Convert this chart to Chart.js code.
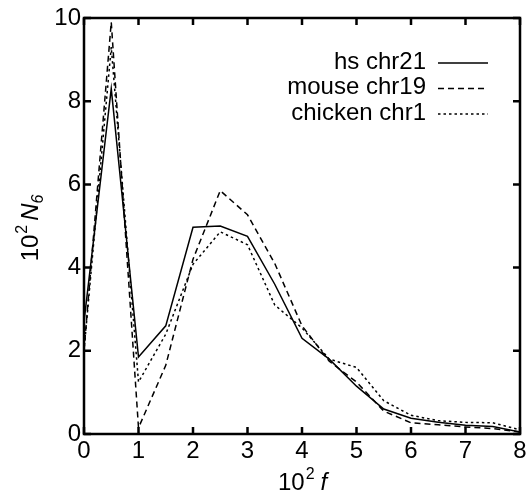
<html lang="en">
  <head>
    <title>N6 vs f</title>
    <script type="text/javascript" src="https://cdn.jsdelivr.net/npm/chart.js"></script>
    <style>
      body { margin: 0; background: #fff; }
      #wrap { width: 532px; height: 498px; }
    </style>
  </head>
  <body>
    <div id="wrap">
      <canvas id="myChart" width="532" height="498"></canvas>
    </div>
    <script>
      // 10^2 f on x, 10^2 N6 on y
      const fVals = [0, 0.5, 1, 1.5, 2, 2.5, 3, 3.5, 4, 4.5, 5, 5.5, 6, 6.5, 7, 7.5, 8];
      const hsChr21 = [2.7, 8.3, 1.85, 2.6, 4.97, 5.0, 4.75, 3.6, 2.3, 1.8, 1.15, 0.6, 0.38, 0.28, 0.21, 0.18, 0.05];
      const mouseChr19 = [2.0, 9.9, 0.15, 1.65, 4.2, 5.85, 5.27, 4.1, 2.6, 1.75, 1.25, 0.55, 0.27, 0.22, 0.17, 0.13, 0.05];
      const chickenChr1 = [2.0, 9.3, 1.25, 2.4, 4.08, 4.86, 4.55, 3.1, 2.55, 1.8, 1.6, 0.8, 0.45, 0.32, 0.28, 0.27, 0.1];

      const seriesNames = ['hs chr21', 'mouse chr19', 'chicken chr1'];
      const seriesDash = [[], [6, 4], [2.5, 3]];
      const xTicks = [0, 1, 2, 3, 4, 5, 6, 7, 8];
      const yTicks = [0, 2, 4, 6, 8, 10];

      const FONT = 'Liberation Sans, Arial, sans-serif';

      const toPts = (ys) => fVals.map((f, i) => ({x: f, y: ys[i]}));
      const allSeries = [hsChr21, mouseChr19, chickenChr1];

      // frame, inward ticks, legend and axis titles
      const decorations = {
        id: 'decorations',
        afterDraw(chart) {
          const ctx = chart.ctx;
          const a = chart.chartArea;
          const xs = chart.scales.x, ys = chart.scales.y;
          ctx.save();
          ctx.strokeStyle = '#000';
          ctx.lineWidth = 2.5;
          ctx.setLineDash([]);
          ctx.strokeRect(a.left, a.top, a.right - a.left, a.bottom - a.top);

          ctx.lineWidth = 2.5;
          const tl = 7;
          ctx.beginPath();
          xTicks.forEach(v => {
            const px = xs.getPixelForValue(v);
            ctx.moveTo(px, a.bottom); ctx.lineTo(px, a.bottom - tl);
            ctx.moveTo(px, a.top); ctx.lineTo(px, a.top + tl);
          });
          yTicks.forEach(v => {
            const py = ys.getPixelForValue(v);
            ctx.moveTo(a.left, py); ctx.lineTo(a.left + tl, py);
            ctx.moveTo(a.right, py); ctx.lineTo(a.right - tl, py);
          });
          ctx.stroke();

          // legend
          ctx.fillStyle = '#000';
          ctx.font = '24px ' + FONT;
          ctx.textAlign = 'right';
          ctx.textBaseline = 'middle';
          ctx.lineWidth = 1.5;
          seriesNames.forEach((name, i) => {
            const y = 62 + i * 25.5;
            ctx.fillText(name, 426, y);
            ctx.setLineDash(seriesDash[i]);
            ctx.beginPath();
            ctx.moveTo(438, y + 1);
            ctx.lineTo(488, y + 1);
            ctx.stroke();
          });
          ctx.setLineDash([]);

          // x title: 10^2 f
          ctx.textAlign = 'left';
          ctx.textBaseline = 'alphabetic';
          let x = 278, y = 490;
          ctx.font = '24px ' + FONT;
          ctx.fillText('10', x, y);
          x += ctx.measureText('10').width;
          ctx.font = '16px ' + FONT;
          ctx.fillText('2', x + 1, y - 11);
          x += ctx.measureText('2').width + 7;
          ctx.font = 'italic 24px ' + FONT;
          ctx.fillText('f', x, y);

          // y title: 10^2 N6 (rotated)
          ctx.translate(38, 226);
          ctx.rotate(-Math.PI / 2);
          ctx.font = '24px ' + FONT;
          const w = ctx.measureText('10').width + 10 + 34;
          x = -w / 2; y = 0;
          ctx.fillText('10', x, y);
          x += ctx.measureText('10').width;
          ctx.font = '16px ' + FONT;
          ctx.fillText('2', x + 1, y - 11);
          x += ctx.measureText('2').width + 5;
          ctx.font = 'italic 24px ' + FONT;
          ctx.fillText('N', x, y);
          x += ctx.measureText('N').width;
          ctx.font = 'italic 16px ' + FONT;
          ctx.fillText('6', x, y + 5);
          ctx.restore();
        }
      };

      const ctx = document.getElementById('myChart').getContext('2d');

      let dts = {
        datasets: allSeries.map((s, i) => ({
          label: seriesNames[i],
          data: toPts(s),
          borderColor: '#000',
          borderWidth: 1.5,
          borderDash: seriesDash[i],
          pointRadius: 0,
          tension: 0,
          fill: false,
        }))
      };

      let configOptions = {
        responsive: false,
        animation: false,
        layout: { padding: { top: 18, right: 12, left: 0, bottom: 0 } },
        plugins: {
          legend: { display: false },
          tooltip: { enabled: false },
        },
        scales: {
          x: {
            type: 'linear',
            min: 0, max: 8,
            afterFit: (s) => { s.height = 64; },
            afterBuildTicks: (s) => { s.ticks = xTicks.map(v => ({value: v})); },
            grid: { display: false, drawTicks: false },
            border: { display: false },
            ticks: { color: '#000', font: { family: FONT, size: 24 }, padding: 3, maxRotation: 0, autoSkip: false },
          },
          y: {
            type: 'linear',
            min: 0, max: 10,
            afterFit: (s) => { s.width = 84; },
            afterBuildTicks: (s) => { s.ticks = yTicks.map(v => ({value: v})); },
            grid: { display: false, drawTicks: false },
            border: { display: false },
            ticks: { color: '#000', font: { family: FONT, size: 24 }, padding: 3, autoSkip: false },
          }
        }
      };

      new Chart(ctx, {
        type: 'line',
        data: dts,
        options: configOptions,
        plugins: [decorations],
      });
    </script>
  </body>
</html>
